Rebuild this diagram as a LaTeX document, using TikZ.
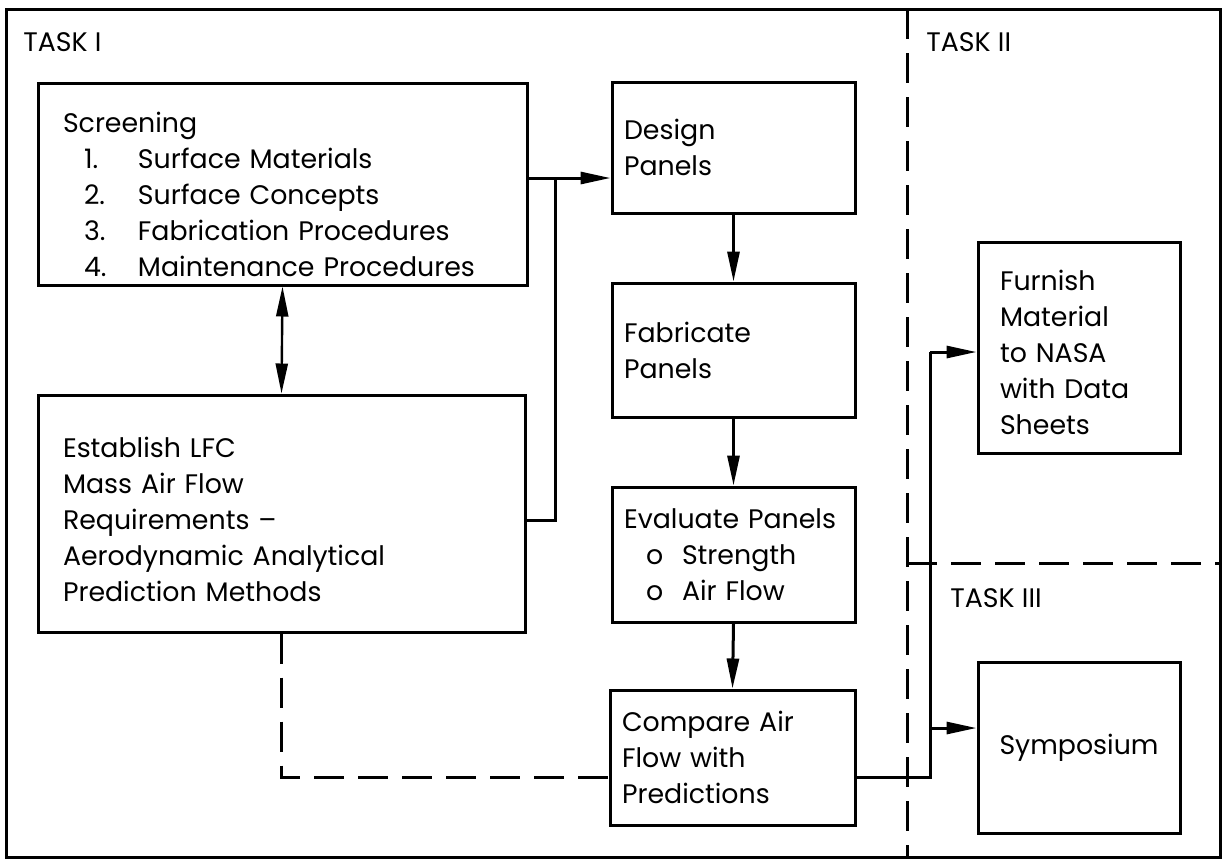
\documentclass[tikz,border=0pt]{standalone}
\usepackage{fontspec}
\setmainfont{Poppins}
\usetikzlibrary{arrows.meta}

\newcommand{\itm}[2]{\hspace*{10.5pt}\makebox[27pt][l]{#1}#2}
\newcommand{\bul}[1]{\hspace*{11pt}\makebox[18pt][l]{o}#1}

\begin{document}
\begin{tikzpicture}[x=0.5pt, y=-0.5pt,
  every node/.style={font=\fontsize{13.4}{18}\selectfont},
  bx/.style ={draw=black, line width=1.5pt, align=left, inner ysep=0pt},
  tsk/.style={anchor=west, inner sep=0pt},
  fr/.style ={draw=black, line width=1.5pt},
  ln/.style ={draw=black, line width=1.5pt},
  ar/.style ={-{Triangle[length=15pt,width=6pt]}, line width=1.5pt},
  dar/.style={{Triangle[length=15pt,width=6pt]}-{Triangle[length=15pt,width=6pt]}, line width=1.2pt},
  dl/.style ={line width=1.5pt, dash pattern=on 15pt off 7pt},
]
\useasboundingbox (0,0) rectangle (1224,859);

%% ─── Frame and task borders ─────────────────────────────────────────────────
\draw[fr] (6,9) rectangle (1220,857);
\draw[dl] (907,9) -- (907,857);
\draw[dl] (907,563) -- (1220,563);

\node[tsk] (T1) at (23,42)  {TASK I};
\node[tsk] (T2) at (926,42) {TASK II};
\node[tsk] (T3) at (950,598) {TASK III};

%% ─── Task I boxes ───────────────────────────────────────────────────────────
\node[bx, minimum width=244.5pt, minimum height=101pt, inner xsep=12.5pt, text width=219.5pt]
  (SCR) at (282.5,184) {\rule{0pt}{21pt}Screening\\
  \itm{1.}{Surface Materials}\\
  \itm{2.}{Surface Concepts}\\
  \itm{3.}{Fabrication Procedures}\\
  \itm{4.}{Maintenance Procedures}};

\node[bx, minimum width=243.5pt, minimum height=118.5pt, inner xsep=12.5pt, text width=218.5pt]
  (EST) at (281.5,513.5) {\rule{0pt}{16pt}Establish LFC\\ Mass Air Flow\\ Requirements --\\
  Aerodynamic Analytical\\ Prediction Methods};

\node[bx, minimum width=121.5pt, minimum height=65.5pt, inner xsep=6pt, text width=109.5pt]
  (DES) at (733.5,147.5) {Design\\ Panels};
\node[bx, minimum width=121.5pt, minimum height=67pt, inner xsep=6pt, text width=109.5pt]
  (FAB) at (733.5,350) {Fabricate\\ Panels};
\node[bx, minimum width=121.5pt, minimum height=67.5pt, inner xsep=6pt, text width=109.5pt]
  (EVA) at (733.5,554.5) {Evaluate Panels\\ \bul{Strength}\\ \bul{Air Flow}};
\node[bx, minimum width=122.5pt, minimum height=67.5pt, inner xsep=6pt, text width=110.5pt]
  (CMP) at (732.5,757.5) {Compare Air\\ Flow with\\ Predictions};

%% ─── Task II and III boxes ──────────────────────────────────────────────────
\node[bx, minimum width=101pt, minimum height=105.5pt, inner xsep=11pt, text width=79pt]
  (FUR) at (1079,347.5) {\rule{0pt}{15pt}Furnish\\ Material\\ to NASA\\ with Data\\ Sheets};
\node[bx, align=center, minimum width=101pt, minimum height=85.5pt]
  (SYM) at (1079,747.5) {Symposium};

%% ─── Connectors ─────────────────────────────────────────────────────────────
\coordinate (J1) at (555,178);   % join of screening / requirements lines
\coordinate (J2) at (555,520);
\draw[ar] (SCR.east |- J1) -- (DES.west |- J1);
\draw[ln] (EST.east |- J2) -- (J2) -- (J1);
\draw[dar] (SCR.south) -- (EST.north);

\draw[ar] (DES.south) -- (FAB.north);
\draw[ar] (FAB.south) -- (EVA.north);
\draw[ar] (EVA.south) -- (CMP.north);

% predictions compared with measured flow
\coordinate (K1) at (283,777);
\draw[dl] (EST.south) -- (EST.south |- K1) -- (CMP.west |- K1);

% results out to tasks II and III
\coordinate (S0) at (930,777);
\coordinate (S1) at (930,352);
\coordinate (S2) at (930,728);
\draw[ln] (CMP.east |- S0) -- (S0) -- (S1);
\draw[ar] (S1) -- (FUR.west |- S1);
\draw[ar] (S2) -- (SYM.west |- S2);

\end{tikzpicture}
\end{document}
